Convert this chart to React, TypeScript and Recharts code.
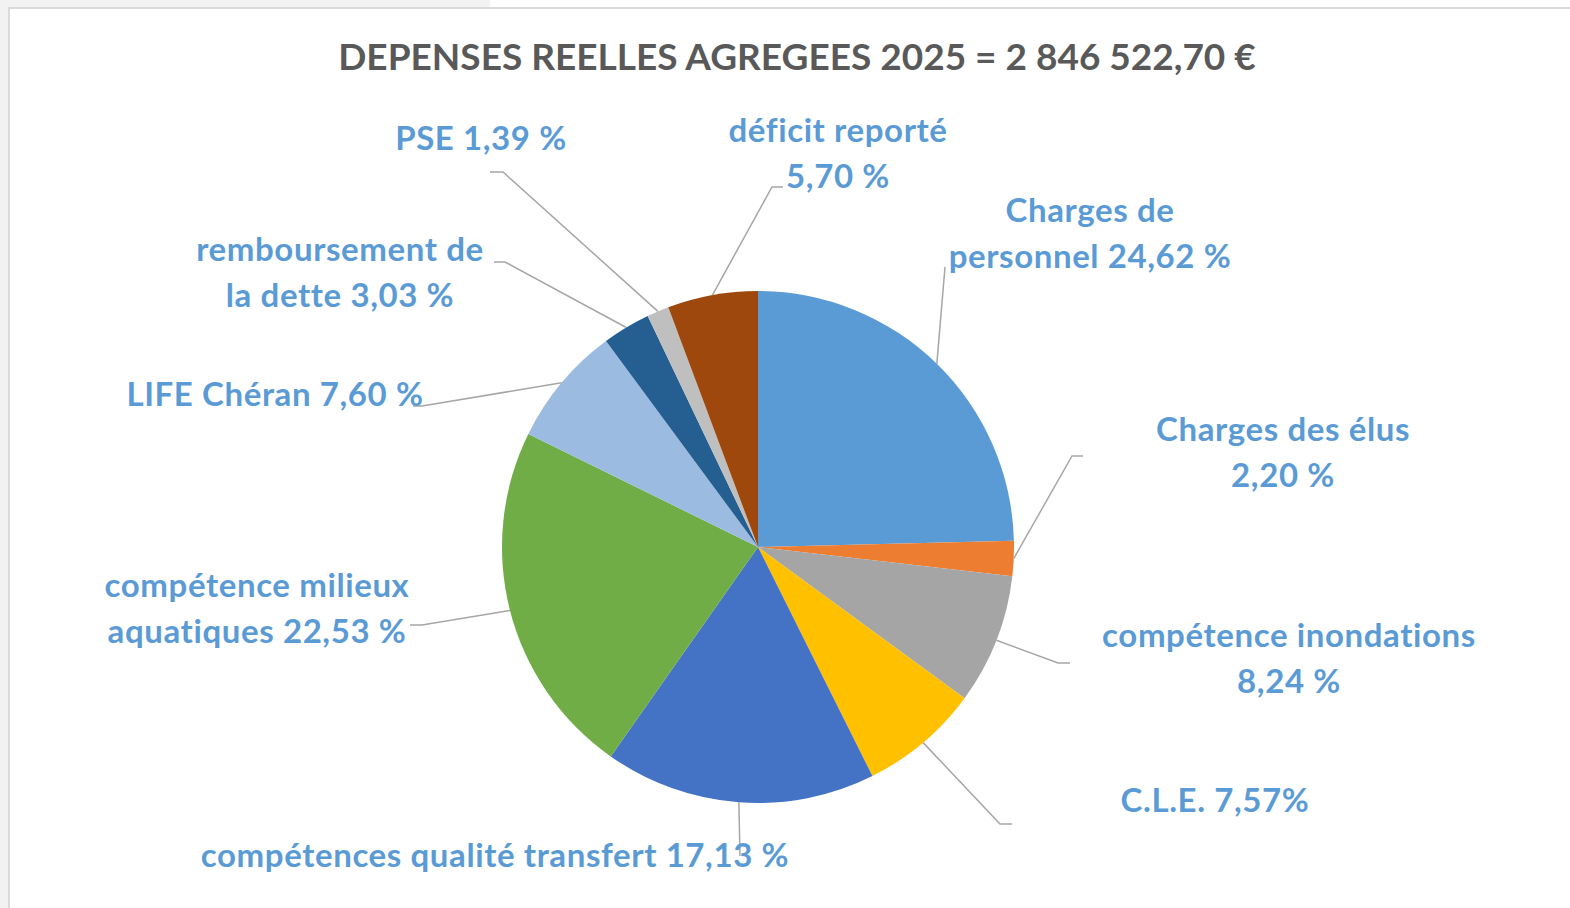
import { PieChart, Pie, Cell } from "recharts";

const categories = [
  "Charges de personnel",
  "Charges des élus",
  "compétence inondations",
  "C.L.E.",
  "compétences qualité transfert",
  "compétence milieux aquatiques",
  "LIFE Chéran",
  "remboursement de la dette",
  "PSE",
  "déficit reporté",
];

const shares = [24.62, 2.2, 8.24, 7.57, 17.13, 22.53, 7.6, 3.03, 1.39, 5.7];

const labelLines = [
  ["Charges de", "personnel 24,62 %"],
  ["Charges des élus", "2,20 %"],
  ["compétence inondations", "8,24 %"],
  ["C.L.E. 7,57%"],
  ["compétences qualité transfert 17,13 %"],
  ["compétence milieux", "aquatiques 22,53 %"],
  ["LIFE Chéran 7,60 %"],
  ["remboursement de", "la dette 3,03 %"],
  ["PSE 1,39 %"],
  ["déficit reporté", "5,70 %"],
];

const colors = [
  "#5B9BD5",
  "#ED7D31",
  "#A5A5A5",
  "#FFC000",
  "#4472C4",
  "#70AD47",
  "#9BBBE0",
  "#255E91",
  "#BFBFBF",
  "#9E480E",
];

// label placement, offsets from the pie centre: elbow, line end, text centre/baseline
const labelPos = [
  { ex: 187, ey: -280, lx: 187, tx: 332, ty: -325 },
  { ex: 314, ey: -91, lx: 325, tx: 525, ty: -106 },
  { ex: 300, ey: 116, lx: 312, tx: 531, ty: 100 },
  { ex: 242, ey: 277, lx: 254, tx: 457, ty: 265 },
  { ex: -18, ey: 309, lx: -18, tx: -263, ty: 320 },
  { ex: -336, ey: 78, lx: -348, tx: -501, ty: 50 },
  { ex: -336, ey: -141, lx: -345, tx: -483, ty: -141 },
  { ex: -253, ey: -285, lx: -264, tx: -418, ty: -286 },
  { ex: -255, ey: -375, lx: -268, tx: -277, ty: -397 },
  { ex: 14, ey: -360, lx: 25, tx: 80, ty: -405 },
];

const data = categories.map((name, i) => ({ name, value: shares[i] }));

const RAD = Math.PI / 180;
const font = "Lato, 'Open Sans', sans-serif";

const renderLabel = (props: any) => {
  const { cx, cy, midAngle, outerRadius, index } = props;
  const p = labelPos[index];
  const sx = cx + outerRadius * Math.cos(-midAngle * RAD);
  const sy = cy + outerRadius * Math.sin(-midAngle * RAD);
  return (
    <g key={"lbl" + index}>
      <polyline
        points={`${sx},${sy} ${cx + p.ex},${cy + p.ey} ${cx + p.lx},${cy + p.ey}`}
        fill="none"
        stroke="#A6A6A6"
        strokeWidth={1.5}
      />
      <text
        textAnchor="middle"
        fill="#5B9BD5"
        fontFamily={font}
        fontWeight={700}
        fontSize={33}
        letterSpacing={0.6}
      >
        {labelLines[index].map((line, j) => (
          <tspan key={j} x={cx + p.tx} y={cy + p.ty + j * 46}>
            {line}
          </tspan>
        ))}
      </text>
    </g>
  );
};

export default function App() {
  return (
    <div style={{ position: "absolute", left: 0, top: 0, width: 1570, height: 908, background: "#fff", overflow: "hidden" }}>
      <div style={{ position: "absolute", left: 0, top: 0, width: 490, height: 8, background: "#F2F2F2" }} />
      <div style={{ position: "absolute", left: 0, top: 0, width: 8, height: 908, background: "#F2F2F2" }} />
      <div
        style={{
          position: "absolute",
          left: 8,
          top: 7,
          width: 1570,
          height: 910,
          borderLeft: "2px solid #DADADA",
          borderTop: "2px solid #DADADA",
        }}
      />
      <div
        style={{
          position: "absolute",
          left: 0,
          top: 33,
          width: 1594,
          textAlign: "center",
          fontFamily: font,
          fontWeight: 700,
          fontSize: 37,
          color: "#595959",
        }}
      >
        DEPENSES REELLES AGREGEES 2025 = 2 846 522,70 €
      </div>
      <div style={{ position: "absolute", left: 0, top: 0 }}>
        <PieChart width={1570} height={908} margin={{ top: 0, right: 0, bottom: 0, left: 0 }}>
          <Pie
            data={data}
            dataKey="value"
            nameKey="name"
            cx={758}
            cy={547}
            outerRadius={256}
            startAngle={90}
            endAngle={-270}
            stroke="none"
            label={renderLabel}
            labelLine={false}
            isAnimationActive={false}
          >
            {data.map((d, i) => (
              <Cell key={d.name} fill={colors[i]} />
            ))}
          </Pie>
        </PieChart>
      </div>
    </div>
  );
}
